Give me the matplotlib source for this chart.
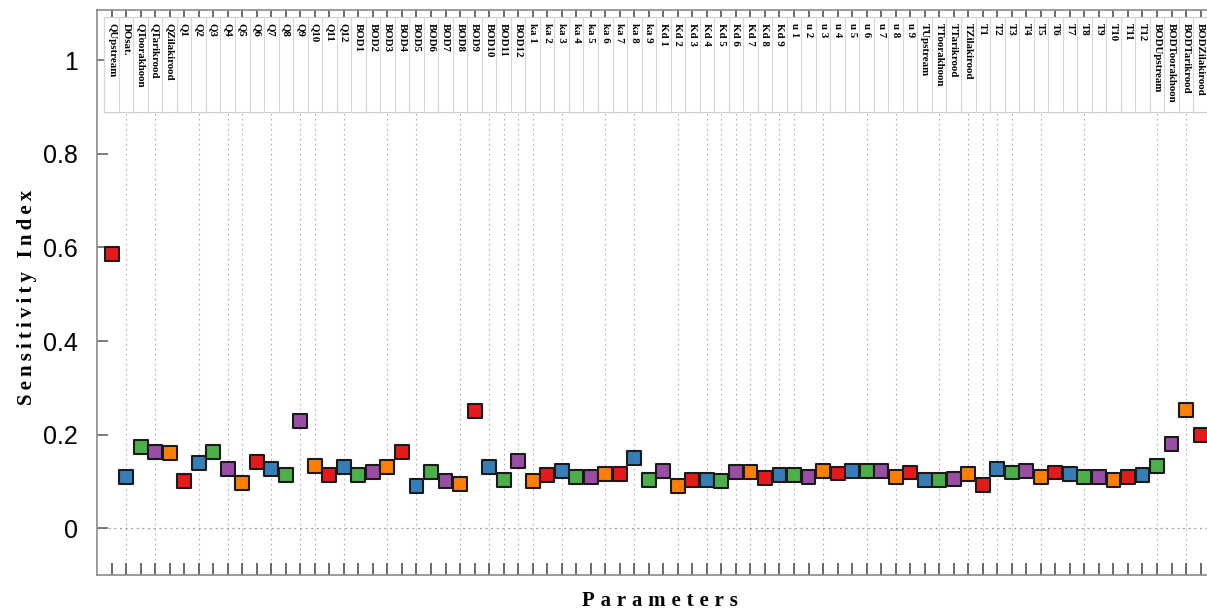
import numpy as np
import matplotlib
matplotlib.use("Agg")
import matplotlib.pyplot as plt
from matplotlib.patches import Rectangle

# parameter names, grouped the way the model lists them
inflow = ["QUpstream", "DOsat.", "QToorakhoon", "QTarikrood", "QZilakirood"]
flows = ["Q%d" % i for i in range(1, 13)]
bods = ["BOD%d" % i for i in range(1, 13)]
ka = ["ka %d" % i for i in range(1, 10)]
kd = ["Kd %d" % i for i in range(1, 10)]
vel = ["u %d" % i for i in range(1, 10)]
temp_in = ["TUpstream", "TToorakhoon", "TTarikrood", "TZilakirood"]
temps = ["T%d" % i for i in range(1, 13)]
bod_in = ["BODUpstream", "BODToorakhoon", "BODTarikrood", "BODZilakirood"]
params = inflow + flows + bods + ka + kd + vel + temp_in + temps + bod_in

# sensitivity index per parameter
si_inflow = [0.585, 0.110, 0.173, 0.163, 0.160]
si_flows = [0.100, 0.140, 0.163, 0.126, 0.097, 0.142, 0.126, 0.113, 0.229, 0.133, 0.113, 0.130]
si_bods = [0.113, 0.120, 0.130, 0.163, 0.090, 0.120, 0.100, 0.094, 0.250, 0.130, 0.103, 0.143]
si_ka = [0.100, 0.113, 0.123, 0.110, 0.110, 0.116, 0.116, 0.150, 0.103]
si_kd = [0.123, 0.090, 0.103, 0.103, 0.100, 0.120, 0.120, 0.107, 0.113]
si_vel = [0.113, 0.110, 0.123, 0.117, 0.123, 0.123, 0.123, 0.110, 0.119]
si_temp_in = [0.103, 0.103, 0.106, 0.115]
si_temps = [0.093, 0.126, 0.119, 0.122, 0.109, 0.119, 0.115, 0.109, 0.109, 0.103, 0.109, 0.113]
si_bod_in = [0.132, 0.179, 0.252, 0.199]
si = si_inflow + si_flows + si_bods + si_ka + si_kd + si_vel + si_temp_in + si_temps + si_bod_in

palette = ["#e41a1c", "#377eb8", "#4daf4a", "#984ea3", "#ff7f00"]
grid_at = [1, 3, 6, 8, 9, 11, 13, 14, 16, 19, 21, 24, 26, 27, 28, 29, 31, 34, 36,
           39, 41, 42, 43, 44, 45, 46, 47, 49, 52, 54, 57, 59, 60, 61, 62, 64, 67, 72, 74]

n = len(params)
x = np.arange(n)
spine_col = "#8a8a8a"
header_lo, header_hi = 0.89, 1.092
serif = ["Liberation Serif", "DejaVu Serif"]

fig = plt.figure(figsize=(12.07, 6.14), dpi=100)
ax = fig.add_axes([0.0804, 0.0635, 0.9263, 0.920])
ax.set_xlim(-1, n)
ax.set_ylim(-0.1, 1.107)

# dotted guide lines
for i in grid_at:
    ax.plot([i, i], [-0.1, header_lo], ls=(0, (1.5, 3)), color="#b0b0b0", lw=0.8, zorder=1)
ax.axhline(0, ls=(0, (1.5, 3)), color="#999999", lw=0.9, zorder=1)

# header strip holding the parameter names
ax.add_patch(Rectangle((-0.5, header_lo), n, header_hi - header_lo,
                       facecolor="white", edgecolor="#cfcfcf", lw=0.8, zorder=2))
for i in range(n + 1):
    ax.plot([i - 0.5, i - 0.5], [header_lo, header_hi], color="#d6d6d6", lw=0.8, zorder=2)
for i, name in enumerate(params):
    ax.text(i, header_hi - 0.012, name, rotation=270, ha="center", va="top",
            fontsize=7.8, fontweight="bold", family=serif, zorder=3)

# markers, colours cycling through the palette
cols = [palette[i % len(palette)] for i in range(n)]
ax.scatter(x, si, marker="s", s=100, c=cols, edgecolors="#1a1a1a", linewidths=1.5, zorder=4)

ax.set_xticks(x)
ax.set_xticklabels([])
ax.tick_params(axis="x", direction="in", length=9, color="#444444", width=1.1,
               top=True)
ax.set_yticks([0, 0.2, 0.4, 0.6, 0.8, 1.0])
ax.set_yticklabels(["0", "0.2", "0.4", "0.6", "0.8", "1"], family="Liberation Sans")
ax.tick_params(axis="y", direction="in", length=8, color="#666666", width=1.2,
               labelsize=18, pad=14)
for s in ax.spines.values():
    s.set_color(spine_col)
    s.set_linewidth(1.2)

fig.text(0.022, 0.515, "\u2009".join("Sensitivity Index"), rotation=90,
         fontsize=15, fontweight="bold", family=serif, ha="center", va="center")
fig.text(0.547, 0.021, "\u2009\u200a".join("Parameters"), fontsize=15, fontweight="bold",
         family=serif, ha="center", va="center")

fig.savefig("out.png", dpi=100)
